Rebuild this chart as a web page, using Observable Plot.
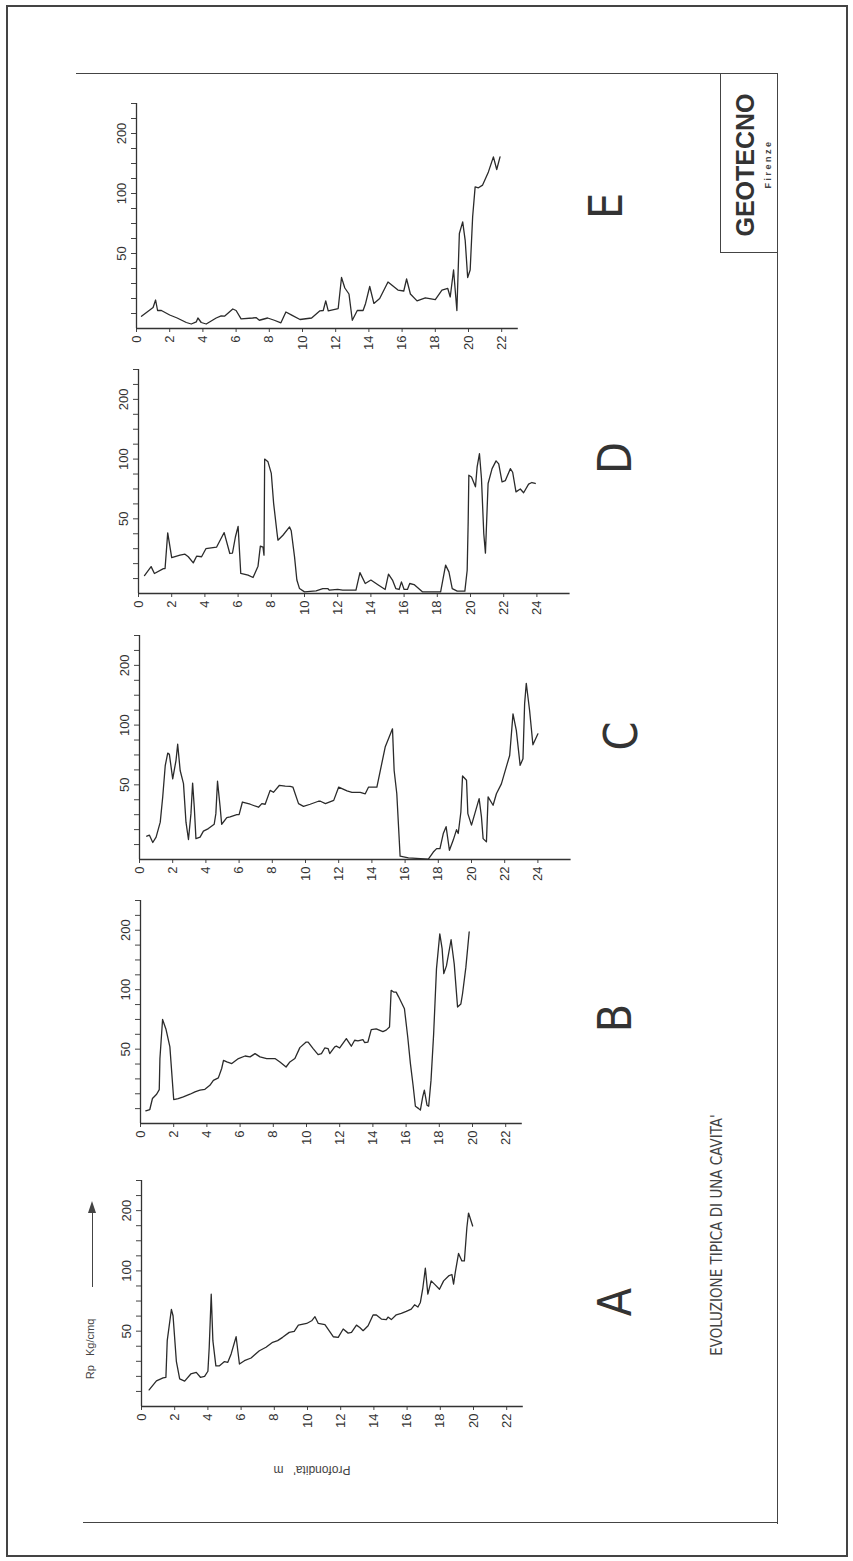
<!DOCTYPE html>
<html><head><meta charset="utf-8">
<script src="https://cdn.jsdelivr.net/npm/d3@7"></script>
<script src="https://cdn.jsdelivr.net/npm/@observablehq/plot@0.6"></script>
<style>
body{margin:0;background:#fff;}
#page{position:relative;width:853px;height:1561px;overflow:hidden;background:#fff;font-family:"Liberation Sans",Arial,sans-serif;color:#333}
.ln{position:absolute;background:#444}
.rot{position:absolute;transform:translate(-50%,-50%) rotate(-90deg);white-space:nowrap;line-height:1}
.big{font-family:"Liberation Sans Narrow","DejaVu Sans Condensed","Liberation Sans",sans-serif;font-weight:normal;font-size:46px;color:#333}
</style></head><body><div id="page"></div>
<script>
// Rp scale (Kg/cmq): tick values on the Rp axis, labelled ones
const rpTicks = [10,20,30,40,50,62.5,75,87.5,100,125,150,175,200,225,250];
const rpLabels = [50,100,200];
const rpBreaks = [0,50,100,200,250];

// Panel A
const depthA = [0.46,0.9,1.3,1.47,1.55,1.8,1.9,2.1,2.3,2.6,2.97,3.3,3.55,3.8,4.0,4.08,4.2,4.3,4.48,4.7,5.0,5.2,5.4,5.7,5.9,6.2,6.6,7.1,7.5,7.9,8.2,8.5,8.9,9.2,9.45,9.95,10.25,10.45,10.65,11.05,11.3,11.55,11.85,12.15,12.45,12.65,12.95,13.15,13.35,13.65,13.95,14.15,14.45,14.75,14.85,15.05,15.35,15.65,15.95,16.25,16.45,16.65,16.8,16.95,17.1,17.25,17.45,17.65,17.95,18.2,18.5,18.7,18.8,18.9,19.1,19.3,19.45,19.6,19.7,19.95];
const rpA = [11,17,19,19.4,43.7,68,62.8,30,18.3,16.8,21.6,22.7,19.4,20,23.4,39.3,80.7,43.7,27,27,29.8,29.3,34.9,46.3,28.2,30.4,32.2,37,39.3,42.6,43.7,45.9,49.2,49.9,55,56.4,58.6,62,56.4,55.4,50.4,46.3,45.9,51.8,48.7,49.2,55,53,50.4,54.5,63.4,63.4,60,59.6,61.7,59.6,63.6,64.7,66.4,68.3,71.9,70,73.8,86,104.5,80.7,91.7,89,84.8,91.7,95.8,97,89,98.6,129,116.5,116.5,171.6,196,174.5];

// Panel B
const depthB = [0.32,0.56,0.72,0.97,1.13,1.17,1.33,1.53,1.77,2.0,2.27,2.58,2.98,3.28,3.58,3.88,4.18,4.39,4.69,4.89,5.0,5.2,5.5,5.9,6.3,6.6,6.9,7.2,7.6,8.1,8.4,8.77,9.0,9.3,9.6,9.98,10.1,10.4,10.7,10.9,11.1,11.3,11.4,11.7,11.8,12.0,12.4,12.7,12.9,13.1,13.4,13.5,13.7,13.9,14.2,14.6,14.8,15.0,15.1,15.25,15.4,15.55,15.9,16.1,16.26,16.42,16.56,16.76,16.86,17.0,17.1,17.26,17.36,17.5,17.66,17.83,18.03,18.17,18.27,18.43,18.71,18.9,19.1,19.3,19.4,19.6,19.8];
const rpB = [8.5,9.4,16.8,19.7,22.8,43.7,75,67,51.9,16.1,16.8,17.9,19.7,21.3,22.4,23,25.7,29,30.7,37,42.5,41.4,40.3,43.7,45.4,44.8,47,44.8,43.7,43.7,41.4,38,41.4,43.7,51.3,56,56,50.5,46.3,47,51,50.5,47,51.9,52.5,51,58.9,52.5,57.5,57,58,55.6,56,66.4,67,64.7,66,68.6,99.5,98,98,94,84,60,40.3,25.7,11.6,10,9,17.9,22.4,12.3,11.6,29,63,135,194,169,127,140,184,143,85.4,88,96.6,137.5,197];

// Panel C
const depthC = [0.44,0.6,0.8,1.0,1.25,1.4,1.55,1.7,1.8,2.0,2.2,2.3,2.45,2.65,2.8,2.95,3.1,3.2,3.3,3.4,3.65,3.85,4.15,4.5,4.6,4.7,4.85,4.95,5.26,5.46,5.86,6.0,6.2,6.67,7.17,7.37,7.57,7.87,8.07,8.43,8.78,9.08,9.24,9.58,9.88,10.28,10.78,10.9,11.2,11.7,12.0,12.5,12.8,13.3,13.6,13.8,14.3,14.8,15.24,15.34,15.5,15.7,16.2,17.4,17.7,17.9,18.1,18.3,18.47,18.67,18.9,19.1,19.2,19.36,19.46,19.7,19.78,20.0,20.2,20.46,20.6,20.7,20.9,21.0,21.3,21.5,21.8,22.15,22.3,22.5,22.7,22.93,23.1,23.2,23.3,23.5,23.7,24.0];
const rpC = [15.6,16.3,11.4,15,25,42,66,76.6,75.5,55,70.5,84,62,51,25,13.4,30.7,51.5,35,14,15,19,20.7,23.6,30.7,53,36,23.6,28,28.5,30,30,38.5,37,35,37.4,37,46.3,45,49.7,49.2,49,48.5,37.4,35.6,37,39,39,37.4,39.6,48.5,45.9,45,45,44,48.5,48.5,81.6,96.9,62,44,2.2,1.1,0.2,5,7.3,7.3,17.4,22,6.2,13,20,17.4,31.8,57.4,53.8,30.7,23,30.7,40.8,28.5,14,11.8,41.9,36.3,44,50.8,67.6,74.6,118.8,95.6,66.3,71.8,135.6,170,124.5,83.5,92.7];

// Panel D
const depthD = [0.36,0.76,0.96,1.5,1.6,1.76,2.0,2.5,2.8,3.0,3.3,3.5,3.8,4.06,4.7,5.16,5.5,5.66,5.84,6.0,6.16,6.6,6.9,7.2,7.34,7.5,7.56,7.6,7.8,8.0,8.14,8.34,8.4,8.7,9.1,9.2,9.4,9.54,9.7,10.0,10.7,11.1,11.4,11.5,12.0,12.3,13.1,13.34,13.66,14.0,14.4,14.86,15.06,15.3,15.5,15.7,15.84,16.0,16.2,16.34,16.6,17.1,18.2,18.5,18.7,18.9,19.2,19.66,19.8,19.86,19.9,20.06,20.3,20.4,20.54,20.66,20.8,20.9,21.06,21.3,21.54,21.7,21.9,22.1,22.4,22.54,22.74,23.0,23.2,23.5,23.7,23.9];
const rpD = [12,18,13.4,16.7,16.7,40.6,24,25.7,26.3,24.6,20.5,25,24.6,30,31,40.8,26.8,27,38,45,13.4,12.3,10.7,18.3,31.7,31,25.7,100,97.7,88,63,41,35.7,39,44.6,42,24.5,9,3.3,1.1,1.8,3.3,3.3,2.2,2.7,2.2,2.2,14,6.7,9,6,2.7,13,9,3.3,2.7,7.8,2.7,2.7,6.7,6,1.1,1.1,19,14.5,3.3,1.6,1.6,15.6,48,86.5,85,76.8,93.5,109,84,40,27,79.6,92,98.5,96,81,82,92,89,72.6,75,71.8,79,80.4,79.6];

// Panel E
const depthE = [0.3,1.0,1.15,1.27,1.5,2.0,2.45,3.0,3.3,3.6,3.7,3.9,4.2,4.8,5.1,5.3,5.8,6.0,6.3,7.0,7.2,7.4,7.9,8.3,8.7,9.0,9.35,9.85,10.55,11.05,11.25,11.4,11.55,12.15,12.35,12.55,12.8,13.0,13.3,13.65,13.8,14.05,14.3,14.65,15.15,15.75,16.1,16.27,16.5,16.9,17.4,18.0,18.4,18.75,18.9,19.1,19.3,19.45,19.65,19.8,19.95,20.1,20.25,20.4,20.6,20.85,21.2,21.5,21.7,21.9];
const rpE = [8.2,14,19,12,12,9,7,4,3,4.4,7,4,3,7,8.4,8.2,13,12,6.4,7,7.3,5.5,7,5.5,3.8,11,8.9,6,7,11.8,12,18.4,11.8,13.3,34,27,23,5.5,12,12,16.7,28,16.7,20,31,25.6,25,33,23,18.4,20.4,19.3,25.6,26.7,21,39,12,66.7,76.4,61,34,39,80.6,111,109.5,114,136,161,140,161];

const panelNames = ["E","D","C","B","A"];
const panelDepths = [depthE, depthD, depthC, depthB, depthA];
const panelRp = [rpE, rpD, rpC, rpB, rpA];
const panelXMax = [23, 26, 26, 23, 23];
const panelTickMax = [22, 24, 24, 22, 22];

const page = document.getElementById("page");

// layout (pixels)
const layout = [
  {left:136, top:103, bottom:328, letterX:606, letterY:206},
  {left:138, top:369, bottom:593, letterX:615, letterY:458},
  {left:139, top:635, bottom:859, letterX:621, letterY:736},
  {left:140, top:900, bottom:1123, letterX:615, letterY:1018},
  {left:141, top:1180, bottom:1406, letterX:615, letterY:1302}
];
const K = 16.6;

function addLine(x, y, w, h) {
  const d = document.createElement("div");
  d.className = "ln";
  Object.assign(d.style, {left: x + "px", top: y + "px", width: w + "px", height: h + "px"});
  page.appendChild(d);
}
function addText(txt, x, y, css) {
  const d = document.createElement("div");
  d.className = "rot";
  d.textContent = txt;
  Object.assign(d.style, {left: x + "px", top: y + "px"}, css || {});
  page.appendChild(d);
  return d;
}

// page frame
addLine(6, 5, 842, 2);
addLine(6, 1555, 842, 2);
addLine(6, 5, 2, 1552);
addLine(846, 5, 2, 1552);
addLine(76, 73, 702, 1.2);
addLine(777, 73, 1.2, 1451);
addLine(83, 1522, 695, 1.2);
addLine(720, 73, 1.2, 180);
addLine(720, 252, 58, 1.2);

panelNames.forEach((name, i) => {
  const L = layout[i];
  const mt = 8, mb = 40;
  const innerH = L.bottom - L.top;
  const xmax = panelXMax[i];
  const xEnd = L.left + xmax * K;
  const width = Math.ceil(xEnd + 12);
  const height = mt + innerH + mb;
  const y0 = mt + innerH;
  const u = innerH / 15;
  const data = panelDepths[i].map((d, j) => ({depth: d, rp: panelRp[i][j]}));
  const svg = Plot.plot({
    width, height,
    marginLeft: L.left, marginTop: mt, marginBottom: mb, marginRight: width - xEnd,
    x: {domain: [0, xmax], range: [L.left, xEnd]},
    y: {type: "linear", domain: rpBreaks, range: [y0, y0 - 5*u, y0 - 9*u, y0 - 13*u, mt]},
    style: {fontFamily: "'Liberation Sans', Arial, sans-serif", fontSize: "13px", color: "#333", background: "transparent", overflow: "visible"},
    marks: [
      Plot.axisY({ticks: rpTicks, tickFormat: d => rpLabels.includes(d) ? String(d) : "", tickRotate: -90, tickSize: 5, tickPadding: 6, label: null, stroke: "#444"}),
      Plot.axisX({ticks: d3.range(0, panelTickMax[i] + 1, 2), tickFormat: d => String(d), tickRotate: -90, tickSize: 4, tickPadding: 3, label: null, stroke: "#444"}),
      Plot.ruleX([0], {y1: 0, y2: 250, stroke: "#333", strokeWidth: 1.3}),
      Plot.ruleY([0], {x1: 0, x2: xmax, stroke: "#333", strokeWidth: 1.3}),
      Plot.line(data, {x: "depth", y: "rp", stroke: "#2b2b2b", strokeWidth: 1.3})
    ]
  });
  svg.style.position = "absolute";
  svg.style.left = "0px";
  svg.style.top = (L.top - mt) + "px";
  page.appendChild(svg);
  addText(name, L.letterX, L.letterY, {}).classList.add("big");
});

// labels
addText("GEOTECNO", 745, 165, {fontFamily: "'Liberation Sans', Arial, sans-serif", fontWeight: "bold", fontSize: "25px", letterSpacing: "0px", color: "#333"});
addText("Firenze", 768, 164, {fontFamily: "'Liberation Sans', Arial, sans-serif", fontWeight: "bold", fontSize: "9px", letterSpacing: "2.5px", color: "#444"});
addText("EVOLUZIONE TIPICA DI UNA CAVITA'", 717, 1235, {fontFamily: "'Liberation Sans Narrow','DejaVu Sans Condensed',sans-serif", fontSize: "15px", color: "#444", letterSpacing: "0px"});
addText("Rp   Kg/cmq", 90, 1349, {fontSize: "11px", color: "#444", whiteSpace: "pre"});
const prof = addText("Profondita'   m", 312, 1470, {fontSize: "12px", color: "#444", whiteSpace: "pre"});
prof.style.transform = "translate(-50%,-50%) rotate(180deg)";

// Rp arrow
addLine(91.5, 1212, 1.2, 75);
const head = document.createElement("div");
Object.assign(head.style, {position: "absolute", left: "88px", top: "1201px", width: 0, height: 0,
  borderLeft: "4px solid transparent", borderRight: "4px solid transparent", borderBottom: "12px solid #444"});
page.appendChild(head);
</script></body></html>
